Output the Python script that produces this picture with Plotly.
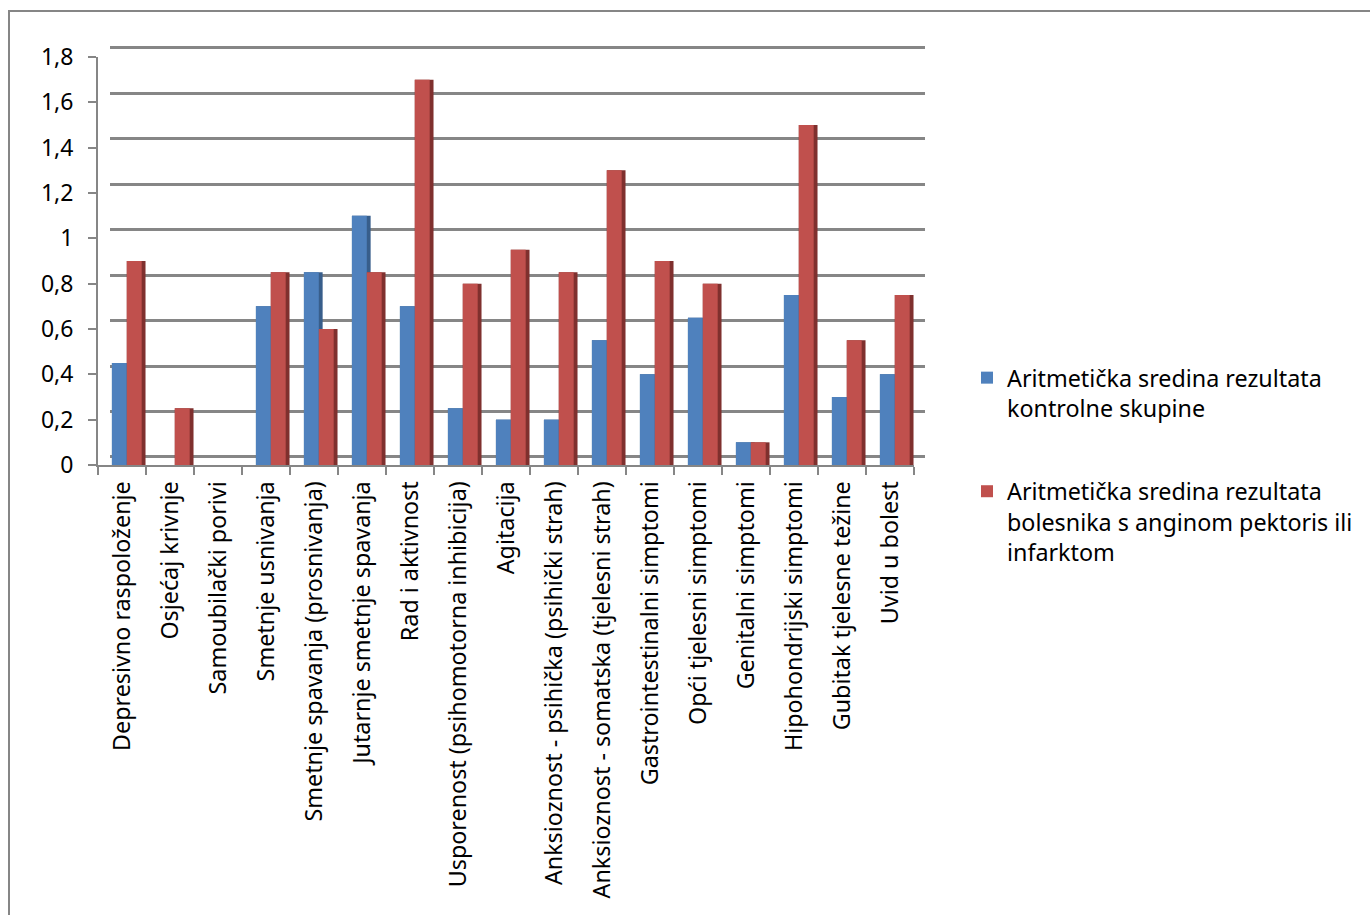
import plotly.graph_objects as go

categories = [
    "Depresivno raspoloženje", "Osjećaj krivnje", "Samoubilački porivi",
    "Smetnje usnivanja", "Smetnje spavanja (prosnivanja)", "Jutarnje smetnje spavanja",
    "Rad i aktivnost", "Usporenost (psihomotorna inhibicija)", "Agitacija",
    "Anksioznost - psihička (psihički strah)", "Anksioznost - somatska (tjelesni strah)",
    "Gastrointestinalni simptomi", "Opći tjelesni simptomi", "Genitalni simptomi",
    "Hipohondrijski simptomi", "Gubitak tjelesne težine", "Uvid u bolest",
]
kontrolna = [0.45, 0.0, 0.0, 0.7, 0.85, 1.1, 0.7, 0.25, 0.2, 0.2, 0.55, 0.4, 0.65, 0.1, 0.75, 0.3, 0.4]
bolesnici = [0.9, 0.25, 0.0, 0.85, 0.6, 0.85, 1.7, 0.8, 0.95, 0.85, 1.3, 0.9, 0.8, 0.1, 1.5, 0.55, 0.75]
name_kontrolna = "Aritmetička sredina rezultata<br>kontrolne skupine"
name_bolesnici = "Aritmetička sredina rezultata<br>bolesnika s anginom pektoris ili<br>infarktom"
y_tickvals = [0, 0.2, 0.4, 0.6, 0.8, 1.0, 1.2, 1.4, 1.6, 1.8]
y_ticktext = ["0", "0,2", "0,4", "0,6", "0,8", "1", "1,2", "1,4", "1,6", "1,8"]

W, H = 1370, 915
FONT = "Noto Sans"
GRID = "#868686"
BLUE, BLUE_D = "#4F81BD", "#385E8B"
RED, RED_D = "#C0504D", "#7F302E"

def px_x(a, b):
    return [a / W, b / W]

def px_y(top, bottom):
    return [1 - bottom / H, 1 - top / H]

# back wall geometry (slightly padded range so edge gridlines are drawn)
EPS = 0.01
back_top, back_bot = 48.0, 457.0
ppu = (back_bot - back_top) / 1.8
back_dom = px_y(back_top - EPS * ppu, back_bot + EPS * ppu)

fig = go.Figure()

# back wall (gridlines only)
fig.add_trace(go.Scatter(x=[None], y=[None], xaxis="x", yaxis="y",
                         showlegend=False, hoverinfo="skip"))

# side faces (depth)
fig.add_trace(go.Bar(x=categories, y=kontrolna, xaxis="x2", yaxis="y2",
                     marker=dict(color=BLUE_D, line=dict(width=0)),
                     offset=-0.21, width=0.39, showlegend=False, hoverinfo="skip"))
fig.add_trace(go.Bar(x=categories, y=bolesnici, xaxis="x2", yaxis="y2",
                     marker=dict(color=RED_D, line=dict(width=0)),
                     offset=0.10, width=0.39, showlegend=False, hoverinfo="skip"))
# front faces
fig.add_trace(go.Bar(x=categories, y=kontrolna, xaxis="x2", yaxis="y2",
                     name=name_kontrolna, legendgroup="a",
                     marker=dict(color=BLUE, line=dict(width=0)),
                     offset=-0.21, width=0.31))
fig.add_trace(go.Bar(x=categories, y=bolesnici, xaxis="x2", yaxis="y2",
                     name=name_bolesnici, legendgroup="b",
                     marker=dict(color=RED, line=dict(width=0)),
                     offset=0.10, width=0.31))

fig.update_layout(
    width=W, height=H,
    margin=dict(l=0, r=0, t=0, b=0),
    paper_bgcolor="white",
    plot_bgcolor="rgba(0,0,0,0)",
    barmode="overlay",
    font=dict(family=FONT, size=23, color="#000000"),
    xaxis=dict(domain=px_x(110, 925), range=[0, 1], showgrid=False,
               showticklabels=False, showline=False, zeroline=False,
               ticks="", fixedrange=True),
    yaxis=dict(domain=back_dom, range=[-EPS, 1.8 + EPS], tickvals=y_tickvals,
               showgrid=True, gridcolor=GRID, gridwidth=2.5,
               showticklabels=False, showline=False, zeroline=False,
               ticks="", anchor="x"),
    xaxis2=dict(domain=px_x(98, 914), anchor="y2", type="category",
                showgrid=False, showline=True, linecolor=GRID, linewidth=2,
                ticks="outside", tickson="boundaries", ticklen=8,
                tickcolor=GRID, tickwidth=2, tickangle=-90,
                ticklabelstandoff=5,
                tickfont=dict(family=FONT, size=23.3, color="#000000"),
                automargin=False, zeroline=False),
    yaxis2=dict(domain=px_y(57, 465), anchor="x2", range=[0, 1.8],
                tickvals=y_tickvals, ticktext=y_ticktext,
                showgrid=False, showline=True, linecolor=GRID, linewidth=2,
                ticks="outside", ticklen=8, tickcolor=GRID, tickwidth=2,
                ticklabelstandoff=10,
                tickfont=dict(family=FONT, size=23, color="#000000"),
                automargin=False, zeroline=False),
    legend=dict(x=967 / W, y=1 - 356 / H, xanchor="left", yanchor="top",
                font=dict(family=FONT, size=23.3, color="#000000"),
                valign="top", tracegroupgap=50, bgcolor="rgba(0,0,0,0)"),
    shapes=[dict(type="rect", xref="paper", yref="paper",
                 x0=9 / W, x1=1.02, y0=-0.02, y1=1 - 11 / H,
                 line=dict(color=GRID, width=2), fillcolor="rgba(0,0,0,0)",
                 layer="below")],
)

fig.write_html("out.html", config={"displayModeBar": False},
               post_script="document.body.style.margin='0';")
